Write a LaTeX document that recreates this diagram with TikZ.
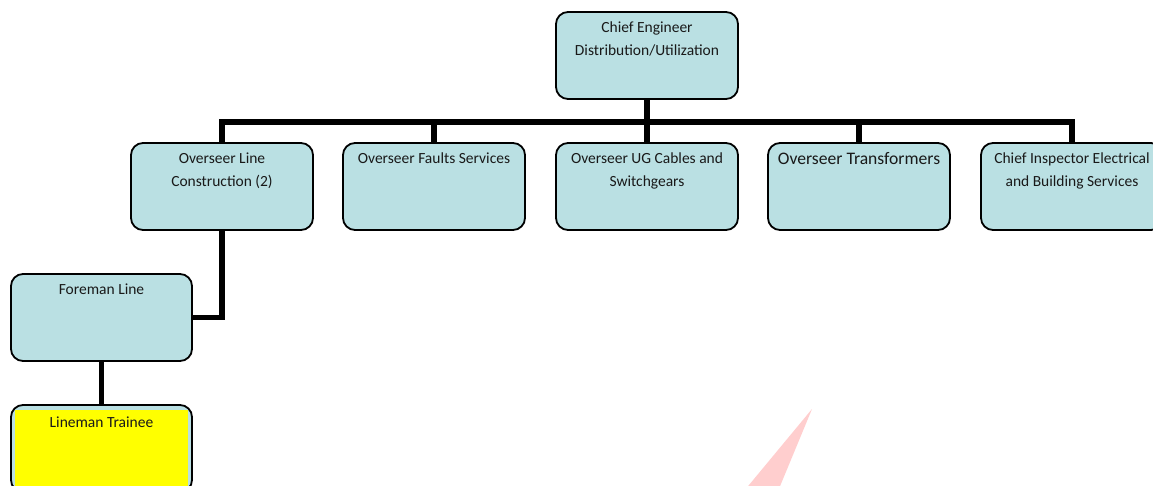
\documentclass[tikz,border=0pt]{standalone}
\usepackage{fontspec}
\setmainfont{Carlito}
\definecolor{boxblue}{RGB}{186,224,227}
\definecolor{wm}{RGB}{255,206,206}
\definecolor{txt}{RGB}{25,25,25}
\definecolor{hiyellow}{RGB}{255,255,0}
\tikzset{
  orgbox/.style={draw=black, line width=1.8pt, fill=boxblue, rounded corners=12pt,
    minimum width=182pt, minimum height=87pt, inner sep=0pt, outer sep=0pt},
  boxtext/.style={anchor=north, align=center, inner sep=0pt, yshift=-10pt, text=txt,
    font=\fontsize{15.5}{22.5}\selectfont},
  bigtext/.style={boxtext, yshift=1pt, font=\fontsize{17.6}{22.5}\selectfont},
  conn/.style={draw=black, line width=5.5pt}
}
\begin{document}
\begin{tikzpicture}[x=1pt,y=-1pt]
\clip (0,0) rectangle (1153,486);
\useasboundingbox (0,0) rectangle (1153,486);
\fill[white] (0,0) rectangle (1153,486);
% watermark
\fill[wm] (812,409) -- (766,520) -- (720,520) -- cycle;
\coordinate (busy) at (0,122);
\node[orgbox, label={[boxtext]north:Chief Engineer\\Distribution/Utilization}] (chief) at (647,55.5) {};
\node[orgbox, label={[boxtext]north:Overseer Line\\Construction (2)}] (olc) at (222,186.5) {};
\node[orgbox, label={[boxtext]north:Overseer Faults Services}] (ofs) at (434,186.5) {};
\node[orgbox, label={[boxtext]north:Overseer UG Cables and\\Switchgears}] (oug) at (647,186.5) {};
\node[orgbox, label={[bigtext]north:Overseer Transformers}] (otr) at (859,186.5) {};
\node[orgbox, label={[boxtext]north:Chief Inspector Electrical\\and Building Services}] (oci) at (1072,186.5) {};
\node[orgbox, minimum width=181pt, label={[boxtext]north:Foreman Line}] (fm) at (101.5,317.5) {};
\node[orgbox, minimum width=181pt] (lm) at (101.5,448.5) {};
\fill[hiyellow] ([xshift=4pt,yshift=-5pt]lm.north west) rectangle ([xshift=-4pt]lm.south east);
\node[boxtext, yshift=-2pt] (lmtext) at (lm.north) {Lineman Trainee};
% connectors
\draw[conn] (chief.south) -- (chief.south |- busy);
\draw[conn] (olc.north) -- (olc.north |- busy) -| (oci.north);
\draw[conn] (ofs.north) -- (ofs.north |- busy);
\draw[conn] (oug.north) -- (oug.north |- busy);
\draw[conn] (otr.north) -- (otr.north |- busy);
\draw[conn] (olc.south) |- (fm.east);
\draw[conn] (fm.south) -- (lm.north);
\end{tikzpicture}
\end{document}
